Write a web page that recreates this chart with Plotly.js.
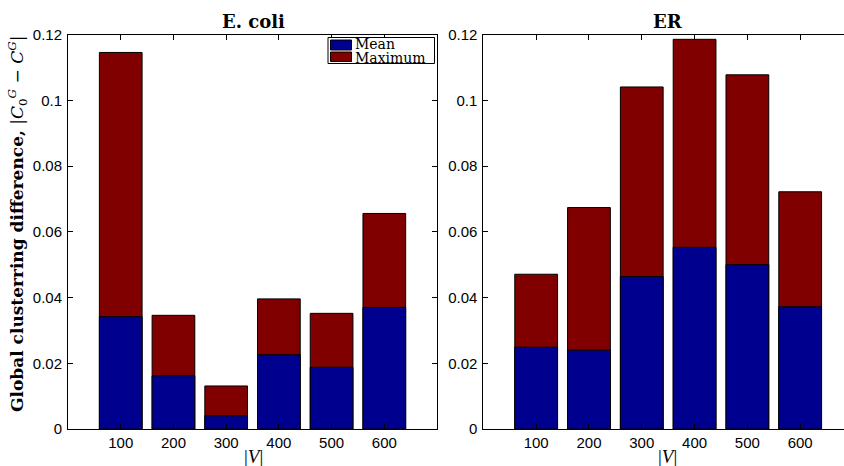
<!DOCTYPE html>
<html>
<head>
<meta charset="utf-8">
<script src="https://cdn.plot.ly/plotly-3.0.1.min.js"></script>
<style>html,body{margin:0;padding:0;background:#fff}#chart{width:844px;height:466px}</style>
</head>
<body>
<div id="chart"></div>
<script>
const sizes = [100, 200, 300, 400, 500, 600];
const ecoliMean = [0.0342, 0.0162, 0.0040, 0.0226, 0.0188, 0.0370];
const ecoliMax  = [0.1146, 0.0346, 0.0131, 0.0396, 0.0352, 0.0656];
const erMean    = [0.0249, 0.0240, 0.0464, 0.0553, 0.0500, 0.0372];
const erMax     = [0.0471, 0.0674, 0.1041, 0.1186, 0.1078, 0.0722];
const yTicks = [0, 0.02, 0.04, 0.06, 0.08, 0.1, 0.12];
const yTickText = ['0', '0.02', '0.04', '0.06', '0.08', '0.1', '0.12'];
const legendNames = ['Mean', 'Maximum'];

const meanColor = '#00008f';
const maxColor = '#800000';
const line = {color: '#000000', width: 1};
const barW = 81;
const serif = 'DejaVu Serif, serif';
const serif2 = 'Liberation Serif, Times New Roman, serif';

const traces = [
  {type: 'bar', x: sizes, y: ecoliMax, width: barW, name: legendNames[1], marker: {color: maxColor, line: line}, xaxis: 'x', yaxis: 'y'},
  {type: 'bar', x: sizes, y: ecoliMean, width: barW, name: legendNames[0], marker: {color: meanColor, line: line}, xaxis: 'x', yaxis: 'y'},
  {type: 'bar', x: sizes, y: erMax, width: barW, name: legendNames[1], marker: {color: maxColor, line: line}, xaxis: 'x2', yaxis: 'y2'},
  {type: 'bar', x: sizes, y: erMean, width: barW, name: legendNames[0], marker: {color: meanColor, line: line}, xaxis: 'x2', yaxis: 'y2'}
];

const tickFont = {family: 'Liberation Sans, Arial, sans-serif', size: 15, color: '#000'};
const axCommon = {
  showgrid: false, zeroline: false, showline: true, linecolor: '#000', linewidth: 1,
  ticks: 'inside', ticklen: 5, tickcolor: '#000', tickfont: tickFont, fixedrange: true
};

const px = v => v / 844;
const py = v => (466 - v) / 466;

const layout = {
  width: 844, height: 466,
  margin: {l: 0, r: 0, t: 0, b: 0},
  paper_bgcolor: '#fff', plot_bgcolor: '#fff',
  barmode: 'overlay',
  bargap: 0,
  showlegend: false,
  xaxis: Object.assign({}, axCommon, {
    domain: [0.0806, 0.5178], range: [0, 700], tickvals: sizes, ticktext: sizes.map(String),
    mirror: 'ticks', anchor: 'y'
  }),
  yaxis: Object.assign({}, axCommon, {
    domain: [0.0794, 0.9255], range: [0, 0.12], tickvals: yTicks, ticktext: yTickText,
    mirror: 'ticks', anchor: 'x', ticklabelstandoff: 2
  }),
  xaxis2: Object.assign({}, axCommon, {
    domain: [0.5727, 1.0], range: [0, 683], tickvals: sizes, ticktext: sizes.map(String),
    mirror: 'ticks', anchor: 'y2'
  }),
  yaxis2: Object.assign({}, axCommon, {
    domain: [0.0794, 0.9255], range: [0, 0.12], tickvals: yTicks, ticktext: yTickText,
    mirror: false, anchor: 'x2', ticklabelstandoff: 2
  }),
  shapes: [
    {type: 'rect', xref: 'paper', yref: 'paper', x0: px(328), x1: px(434.5), y0: py(63.5), y1: py(37.5),
     line: {color: '#000', width: 1}, fillcolor: '#fff', layer: 'above'},
    {type: 'rect', xref: 'paper', yref: 'paper', x0: px(330.5), x1: px(351.5), y0: py(50), y1: py(40),
     line: {color: '#000', width: 1}, fillcolor: meanColor, layer: 'above'},
    {type: 'rect', xref: 'paper', yref: 'paper', x0: px(330.5), x1: px(351.5), y0: py(61.5), y1: py(52),
     line: {color: '#000', width: 1}, fillcolor: maxColor, layer: 'above'}
  ],
  annotations: [
    {text: legendNames[0], xref: 'paper', yref: 'paper', x: px(353), y: py(44.5), xanchor: 'left', yanchor: 'middle', showarrow: false,
     font: {family: serif, size: 14, color: '#000'}},
    {text: legendNames[1], xref: 'paper', yref: 'paper', x: px(353), y: py(57.5), xanchor: 'left', yanchor: 'middle', showarrow: false,
     font: {family: serif, size: 14, color: '#000'}},
    {text: '<b>E. coli</b>', xref: 'paper', yref: 'paper', x: px(253), y: py(22), xanchor: 'center', yanchor: 'middle', showarrow: false,
     font: {family: serif, size: 18, color: '#000'}},
    {text: '<b>ER</b>', xref: 'paper', yref: 'paper', x: px(667.6), y: py(22), xanchor: 'center', yanchor: 'middle', showarrow: false,
     font: {family: serif, size: 18, color: '#000'}},
    {text: '|<i>V</i>|', xref: 'paper', yref: 'paper', x: px(253), y: py(456), xanchor: 'center', yanchor: 'middle', showarrow: false,
     font: {family: serif2, size: 19, color: '#000'}},
    {text: '|<i>V</i>|', xref: 'paper', yref: 'paper', x: px(667), y: py(456), xanchor: 'center', yanchor: 'middle', showarrow: false,
     font: {family: serif2, size: 19, color: '#000'}},
    {text: '<b>Global clusterring difference,</b> |<i>C</i><sub>0</sub><sup><i>G</i></sup> − <i>C</i><sup><i>G</i></sup>|', xref: 'paper', yref: 'paper',
     x: px(17), y: py(224), xanchor: 'center', yanchor: 'middle', textangle: -90, showarrow: false,
     font: {family: serif, size: 17, color: '#000'}}
  ]
};

Plotly.newPlot('chart', traces, layout, {displayModeBar: false, staticPlot: true});
</script>
</body>
</html>
